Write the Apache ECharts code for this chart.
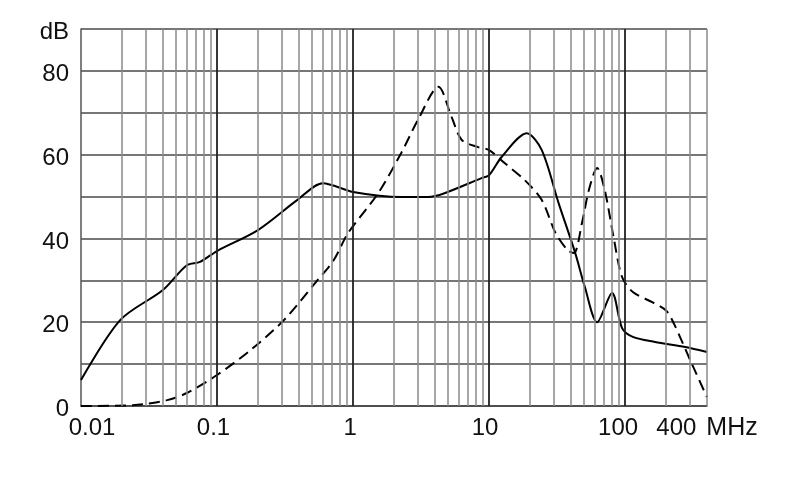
<!DOCTYPE html>
<html>
<head>
<meta charset="utf-8">
<script src="https://cdn.jsdelivr.net/npm/echarts@6/dist/echarts.min.js"></script>
<style>
  html, body { margin: 0; padding: 0; background: #fff; }
  #myChart { width: 790px; height: 499px; }
</style>
</head>
<body>
<div id="myChart"></div>
<script>
// solid curve
const solidFreq = [0.01, 0.0194, 0.04, 0.06, 0.075, 0.1, 0.2, 0.39, 0.6, 1.0, 2.26, 3.57, 4.7, 8.8, 10, 12.4, 18.9, 24.4, 32.4, 43, 50.6, 62.3, 80.2, 95, 114, 166, 277, 400]
const solidDb = [6.2, 20.5, 27.7, 33.6, 34.4, 37, 42, 49.2, 53.2, 51.1, 49.9, 49.9, 50.8, 54.4, 55.1, 59.5, 65.1, 61.1, 48.5, 36.5, 28.4, 20, 27, 18.6, 16.5, 15.3, 14.1, 12.9]
// dashed curve
const dashFreq = [0.01, 0.024, 0.043, 0.06, 0.1, 0.177, 0.31, 0.55, 0.72, 0.92, 1.53, 2.26, 3.0, 4.24, 5.3, 6.3, 8.3, 10, 13, 18.3, 24.4, 30.8, 37.8, 42, 48.2, 54.2, 62.3, 70.8, 83, 95, 114, 158, 200, 229, 312, 400]
const dashDb = [0, 0.2, 1.4, 3.1, 7.4, 13.4, 20.5, 30.1, 34.8, 41.3, 50.8, 60.4, 68.3, 76.2, 69, 63.5, 61.8, 61.1, 58, 53.9, 49.2, 41.3, 37.2, 36.5, 43.7, 51.6, 56.8, 51.6, 39.6, 30.8, 27.2, 24.8, 22.8, 19.6, 9.8, 2.1]

// grid lines (MHz)
const decadeLines = [0.1, 1, 10, 100]
const minorLines = [0.02, 0.03, 0.04, 0.05, 0.06, 0.07, 0.08, 0.09,
    0.2, 0.3, 0.4, 0.5, 0.6, 0.7, 0.8, 0.9,
    2, 3, 4, 5, 6, 7, 8, 9,
    20, 30, 40, 50, 60, 70, 80, 90,
    200, 300, 400]

// tick labels
const xTickLabels = { 0.01: 'a', 0.1: 'b', 1: 'c', 10: 'd', 100: 'e' }
const yTickLabels = { 0: '0', 20: '20', 40: '40', 60: '60', 80: '80', 90: 'dB' }

const xMin = 0.01
const xMax = 400

const zip = (xs, ys) => xs.map((x, i) => [x, ys[i]])

let myChart = echarts.init(document.getElementById('myChart'))

const lbl = { fontSize: 24, color: '#111' }

let option = {
    backgroundColor: '#fff',
    animation: false,
    textStyle: { fontFamily: 'Liberation Sans, Arial, sans-serif' },
    grid: { left: 81, right: 83, top: 29, bottom: 93 },
    xAxis: {
        type: 'log',
        logBase: 10,
        min: xMin,
        max: xMax,
        axisLine: { show: true, lineStyle: { color: '#444', width: 1.5 } },
        axisTick: { show: false },
        splitLine: { show: false },
        axisLabel: {
            show: true,
            showMaxLabel: true,
            showMinLabel: true,
            margin: 10,
            fontSize: 24,
            color: '#111',
            formatter: function (v) {
                if (v >= 399) return '{n|400}{u|MHz}'
                const key = xTickLabels[v]
                return key ? '{' + key + '|' + v + '}' : String(v)
            },
            rich: {
                a: Object.assign({ padding: [0, 0, 0, 22] }, lbl),
                b: Object.assign({ padding: [0, 7, 0, 0] }, lbl),
                c: Object.assign({ padding: [0, 6, 0, 0] }, lbl),
                d: Object.assign({ padding: [0, 8, 0, 0] }, lbl),
                e: Object.assign({ padding: [0, 14, 0, 0] }, lbl),
                n: Object.assign({}, lbl),
                u: { fontSize: 25, color: '#111', padding: [0, 0, 0, 10] }
            }
        }
    },
    yAxis: {
        type: 'value',
        min: 0,
        max: 90,
        interval: 10,
        axisLine: { show: true, lineStyle: { color: '#555', width: 1.5 } },
        axisTick: { show: false },
        splitLine: { show: true, lineStyle: { color: '#4a4a4a', width: 1.5 } },
        axisLabel: {
            margin: 12,
            fontSize: 24,
            color: '#111',
            formatter: function (v) {
                return yTickLabels[v] ? '{y|' + yTickLabels[v] + '}' : ''
            },
            rich: {
                y: Object.assign({ padding: [7, 0, 0, 0] }, lbl)
            }
        }
    },
    series: [
        {
            // vertical grid lines
            type: 'line',
            data: [],
            silent: true,
            markLine: {
                silent: true,
                symbol: 'none',
                label: { show: false },
                animation: false,
                data: minorLines.map(v => ({ xAxis: v, lineStyle: { color: '#8a8a8a', width: 1.5, type: 'solid' } }))
                    .concat(decadeLines.map(v => ({ xAxis: v, lineStyle: { color: '#222', width: 1.8, type: 'solid' } })))
            }
        },
        {
            name: 'solid',
            type: 'line',
            data: zip(solidFreq, solidDb),
            smooth: 0.3,
            symbol: 'none',
            lineStyle: { color: '#000', width: 2 }
        },
        {
            name: 'dashed',
            type: 'line',
            data: zip(dashFreq, dashDb),
            smooth: 0.3,
            symbol: 'none',
            lineStyle: { color: '#000', width: 2, type: [11, 6] }
        }
    ]
}
myChart.setOption(option, true)
window.addEventListener('resize', function () {
    myChart.resize()
})
</script>
</body>
</html>
